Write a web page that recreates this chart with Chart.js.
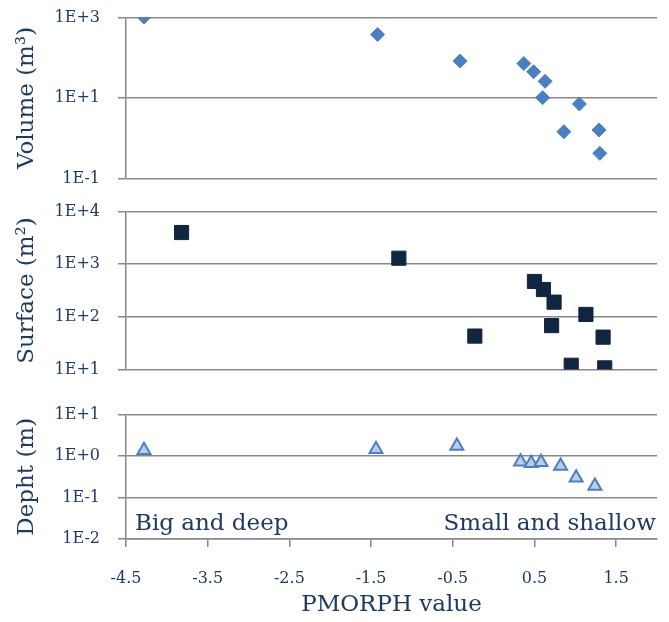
<!DOCTYPE html>
<html>
<head>
    <script src="https://cdn.jsdelivr.net/npm/chart.js@4.4.1/dist/chart.umd.min.js"></script>
    <style>
        body {
            margin: 0;
            background-color: white;
        }

        canvas {
            position: absolute;
            left: 0;
        }
    </style>
</head>
<body>
    <canvas id="volumeChart" width="669" height="216" style="top: -10px;"></canvas>
    <canvas id="surfaceChart" width="669" height="213" style="top: 184px;"></canvas>
    <canvas id="depthChart" width="669" height="235" style="top: 387px;"></canvas>

    <script>
        // values (x = PMORPH value)
        var volumeX = [-4.28, -1.42, -0.41, 0.37, 0.49, 0.63, 0.60, 1.05, 0.86, 1.29, 1.30];
        var volumeY = [1030, 380, 83, 72, 45, 26, 10.2, 7.1, 1.45, 1.6, 0.42];

        var surfaceX = [-3.82, -1.16, 0.50, 0.61, 0.74, 1.13, 0.71, -0.23, 1.34, 0.95, 1.36];
        var surfaceY = [4000, 1300, 470, 330, 190, 111, 68, 43, 41, 12, 10.7];

        var depthX = [-4.28, -1.44, -0.45, 0.33, 0.46, 0.58, 0.82, 1.01, 1.24];
        var depthY = [1.39, 1.46, 1.75, 0.73, 0.67, 0.71, 0.58, 0.30, 0.19];

        // tick labels
        var xTicks = [-4.5, -3.5, -2.5, -1.5, -0.5, 0.5, 1.5];
        var volumeTicks = [0.1, 10, 1000];
        var surfaceTicks = [10, 100, 1000, 10000];
        var depthTicks = [0.01, 0.1, 1, 10];

        var xTitle = 'PMORPH value';
        var volumeTitle = 'Volume (m³)';
        var surfaceTitle = 'Surface (m²)';
        var depthTitle = 'Depht (m)';
        var leftNote = 'Big and deep';
        var rightNote = 'Small and shallow';

        var textColor = '#1d3a63';
        var gridColor = '#888888';
        var fontFamily = '"DejaVu Serif", serif';

        // turns 1000 into "1E+3"
        function sciLabel(value) {
            var e = Math.round(Math.log10(value));
            return '1E' + (e < 0 ? '-' : '+') + Math.abs(e);
        }

        function toPoints(xs, ys) {
            return xs.map(function(x, i) {
                return { x: x, y: ys[i] };
            });
        }

        // writes the two corner notes inside the depth panel
        var cornerNotes = {
            id: 'cornerNotes',
            afterDatasetsDraw: function(chart) {
                var ctx = chart.ctx;
                var area = chart.chartArea;
                ctx.save();
                ctx.fillStyle = textColor;
                ctx.font = '23px ' + fontFamily;
                ctx.textBaseline = 'alphabetic';
                ctx.textAlign = 'left';
                ctx.fillText(leftNote, area.left + 9, area.bottom - 9);
                ctx.textAlign = 'right';
                ctx.fillText(rightNote, area.right - 1, area.bottom - 9);
                ctx.restore();
            }
        };

        function makePanel(canvasId, dataset, yTicks, yTitle, showX) {
            var ctx = document.getElementById(canvasId).getContext('2d');

            return new Chart(ctx, {
                type: 'scatter',
                data: { datasets: [dataset] },
                options: {
                    responsive: false,
                    animation: false,
                    layout: { padding: { top: 0, bottom: 0, left: 0, right: 12 } },
                    plugins: {
                        legend: { display: false },
                        tooltip: { enabled: false }
                    },
                    scales: {
                        x: {
                            type: 'linear',
                            min: -4.5,
                            max: 2,
                            display: showX,
                            afterBuildTicks: function(scale) {
                                scale.ticks = xTicks.map(function(v) { return { value: v }; });
                            },
                            afterFit: function(scale) {
                                scale.height = showX ? 83 : 0;
                            },
                            grid: {
                                drawOnChartArea: false,
                                drawTicks: true,
                                tickLength: 8,
                                color: gridColor,
                                lineWidth: 1.5
                            },
                            border: { display: true, color: gridColor, width: 1.5 },
                            ticks: {
                                autoSkip: false,
                                maxRotation: 0,
                                padding: 22,
                                color: textColor,
                                font: { family: fontFamily, size: 16 },
                                callback: function(value) { return String(value); }
                            },
                            title: {
                                display: true,
                                text: xTitle,
                                color: textColor,
                                font: { family: fontFamily, size: 23 },
                                padding: { top: 0, bottom: 3 }
                            }
                        },
                        y: {
                            type: 'logarithmic',
                            position: 'left',
                            min: yTicks[0],
                            max: yTicks[yTicks.length - 1],
                            afterBuildTicks: function(scale) {
                                scale.ticks = yTicks.map(function(v) { return { value: v }; });
                            },
                            afterFit: function(scale) {
                                scale.width = 126;
                            },
                            grid: {
                                drawTicks: true,
                                tickLength: 8,
                                color: gridColor,
                                lineWidth: 1.5
                            },
                            border: { display: true, color: gridColor, width: 1.5 },
                            ticks: {
                                autoSkip: false,
                                padding: 18,
                                color: textColor,
                                font: { family: fontFamily, size: 16 },
                                callback: function(value) { return sciLabel(value); }
                            },
                            title: {
                                display: true,
                                text: yTitle,
                                color: textColor,
                                font: { family: fontFamily, size: 23 },
                                padding: { top: 13, bottom: 0 }
                            }
                        }
                    }
                },
                plugins: showX ? [cornerNotes] : []
            });
        }

        var volumeChart = makePanel('volumeChart', {
            data: toPoints(volumeX, volumeY),
            pointStyle: 'rectRot',
            pointRadius: 7,
            backgroundColor: '#4a7fc4',
            borderColor: '#4a7fc4',
            borderWidth: 1
        }, volumeTicks, volumeTitle, false);

        var surfaceChart = makePanel('surfaceChart', {
            data: toPoints(surfaceX, surfaceY),
            pointStyle: 'rect',
            pointRadius: 10,
            backgroundColor: '#10253f',
            borderColor: '#10253f',
            borderWidth: 1
        }, surfaceTicks, surfaceTitle, false);

        var depthChart = makePanel('depthChart', {
            data: toPoints(depthX, depthY),
            pointStyle: 'triangle',
            pointRadius: 7.5,
            backgroundColor: '#b9cde8',
            borderColor: '#4a7fc4',
            borderWidth: 2
        }, depthTicks, depthTitle, true);
    </script>
</body>
</html>
